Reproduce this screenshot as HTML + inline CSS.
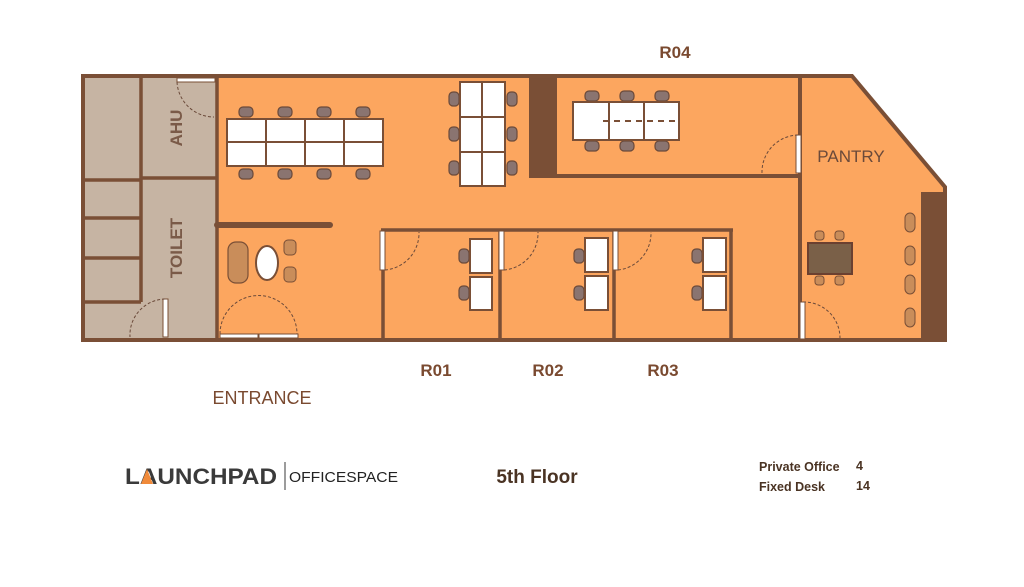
<!DOCTYPE html>
<html><head><style>
html,body{margin:0;padding:0;background:#fff;}
svg{display:block}
text{font-family:"Liberation Sans",sans-serif;}
</style></head><body>
<svg width="1024" height="587" viewBox="0 0 1024 587" xmlns="http://www.w3.org/2000/svg">
<defs>
<g id="chair"><rect x="-7" y="-5" width="14" height="10" rx="4" fill="#8a7470" stroke="#6b4a3a" stroke-width="1.2"/></g>
<g id="chairv"><rect x="-5" y="-7" width="10" height="14" rx="4" fill="#8a7470" stroke="#6b4a3a" stroke-width="1.2"/></g>
</defs>
<!-- floor -->
<polygon points="217,76 852,76 945,187 945,340 217,340" fill="#fca65f"/>
<rect x="83" y="76" width="134" height="264" fill="#c6b4a3"/>
<!-- outer walls -->
<polygon points="83,76 852,76 945,187 945,340 83,340" fill="none" stroke="#7a4f36" stroke-width="4"/>
<!-- grey walls -->
<g stroke="#7a4f36" stroke-width="3.5" fill="none">
<line x1="217" y1="76" x2="217" y2="340"/>
<line x1="141" y1="76" x2="141" y2="302"/>
<line x1="141" y1="178" x2="217" y2="178"/>
<line x1="83" y1="180" x2="141" y2="180"/>
<line x1="83" y1="218" x2="141" y2="218"/>
<line x1="83" y1="258" x2="141" y2="258"/>
<line x1="83" y1="302" x2="141" y2="302"/>
</g>
<!-- grey doors -->
<rect x="177" y="78" width="38" height="4" fill="#fff" stroke="#7a4f36" stroke-width="1"/>
<path d="M177,82 A37,37 0 0 0 214,117" fill="none" stroke="#6b4a3a" stroke-dasharray="3,2"/>
<rect x="163" y="299" width="5" height="38" fill="#fff" stroke="#7a4f36" stroke-width="1"/>
<path d="M165,299 A36,36 0 0 0 130,337" fill="none" stroke="#6b4a3a" stroke-dasharray="3,2"/>
<text transform="translate(182,128) rotate(-90)" text-anchor="middle" font-size="17" font-weight="bold" fill="#7a5a48">AHU</text>
<text transform="translate(182,248) rotate(-90)" text-anchor="middle" font-size="17" font-weight="bold" fill="#7a5a48">TOILET</text>
<!-- partition -->
<line x1="217" y1="225" x2="330" y2="225" stroke="#7a4f36" stroke-width="6" stroke-linecap="round"/>
<!-- lounge -->
<rect x="228" y="242" width="20" height="41" rx="8" fill="#c98d5a" stroke="#7a4f36" stroke-width="1.2"/>
<ellipse cx="267" cy="263" rx="11" ry="17" fill="#fff" stroke="#7a4f36" stroke-width="2"/>
<rect x="284" y="240" width="12" height="15" rx="4" fill="#c98d5a" stroke="#7a4f36" stroke-width="1"/>
<rect x="284" y="267" width="12" height="15" rx="4" fill="#c98d5a" stroke="#7a4f36" stroke-width="1"/>
<rect x="220" y="334" width="38" height="4" fill="#fff" stroke="#7a4f36" stroke-width="1"/>
<rect x="259" y="334" width="39" height="4" fill="#fff" stroke="#7a4f36" stroke-width="1"/>
<path d="M220,334 A38,38 0 0 1 297,334" fill="none" stroke="#6b4a3a" stroke-dasharray="3,2"/>
<!-- desk cluster 1 -->
<g>
<use href="#chair" x="246" y="112"/><use href="#chair" x="285" y="112"/><use href="#chair" x="324" y="112"/><use href="#chair" x="363" y="112"/>
<use href="#chair" x="246" y="174"/><use href="#chair" x="285" y="174"/><use href="#chair" x="324" y="174"/><use href="#chair" x="363" y="174"/>
<rect x="227" y="119" width="156" height="47" fill="#fff" stroke="#7a4f36" stroke-width="2"/>
<g stroke="#7a4f36" stroke-width="2"><line x1="227" y1="142" x2="383" y2="142"/><line x1="266" y1="119" x2="266" y2="166"/><line x1="305" y1="119" x2="305" y2="166"/><line x1="344" y1="119" x2="344" y2="166"/></g>
</g>
<!-- desk cluster 2 -->
<g>
<use href="#chairv" x="454" y="99"/><use href="#chairv" x="454" y="134"/><use href="#chairv" x="454" y="168"/>
<use href="#chairv" x="512" y="99"/><use href="#chairv" x="512" y="134"/><use href="#chairv" x="512" y="168"/>
<rect x="460" y="82" width="45" height="104" fill="#fff" stroke="#7a4f36" stroke-width="2"/>
<g stroke="#7a4f36" stroke-width="2"><line x1="482" y1="82" x2="482" y2="186"/><line x1="460" y1="117" x2="505" y2="117"/><line x1="460" y1="152" x2="505" y2="152"/></g>
</g>
<!-- R04 -->
<rect x="529" y="76" width="28" height="102" fill="#7a4f36"/>
<line x1="529" y1="176" x2="800" y2="176" stroke="#7a4f36" stroke-width="4"/>
<line x1="800" y1="76" x2="800" y2="340" stroke="#7a4f36" stroke-width="4"/>
<use href="#chair" x="592" y="96"/><use href="#chair" x="627" y="96"/><use href="#chair" x="662" y="96"/>
<use href="#chair" x="592" y="146"/><use href="#chair" x="627" y="146"/><use href="#chair" x="662" y="146"/>
<rect x="573" y="102" width="106" height="38" fill="#fff" stroke="#7a4f36" stroke-width="2"/>
<g stroke="#7a4f36" stroke-width="2"><line x1="609" y1="102" x2="609" y2="140"/><line x1="644" y1="102" x2="644" y2="140"/><line x1="603" y1="121" x2="677" y2="121" stroke-dasharray="6,5"/></g>
<rect x="796" y="135" width="5" height="38" fill="#fff" stroke="#7a4f36" stroke-width="1"/>
<path d="M798,135 A37,37 0 0 0 762,173" fill="none" stroke="#6b4a3a" stroke-dasharray="3,2"/>
<text x="851" y="162" text-anchor="middle" font-size="17" fill="#6b4a3a">PANTRY</text>
<!-- pantry -->
<rect x="921" y="192" width="24" height="148" fill="#7a4f36"/>
<rect x="815" y="231" width="9" height="9" rx="3" fill="#c98d5a" stroke="#7a4f36"/><rect x="835" y="231" width="9" height="9" rx="3" fill="#c98d5a" stroke="#7a4f36"/>
<rect x="815" y="276" width="9" height="9" rx="3" fill="#c98d5a" stroke="#7a4f36"/><rect x="835" y="276" width="9" height="9" rx="3" fill="#c98d5a" stroke="#7a4f36"/>
<rect x="808" y="243" width="44" height="31" fill="#7a6048" stroke="#6b4030" stroke-width="2"/>
<g fill="#c98d5a" stroke="#7a4f36"><rect x="905" y="213" width="10" height="19" rx="5"/><rect x="905" y="246" width="10" height="19" rx="5"/><rect x="905" y="275" width="10" height="19" rx="5"/><rect x="905" y="308" width="10" height="19" rx="5"/></g>
<rect x="800" y="302" width="5" height="37" fill="#fff" stroke="#7a4f36" stroke-width="1"/>
<path d="M803,302 A36,36 0 0 1 840,338" fill="none" stroke="#6b4a3a" stroke-dasharray="3,2"/>
<!-- offices -->
<g stroke="#7a4f36" stroke-width="3.5"><line x1="381" y1="230" x2="733" y2="230"/>
<line x1="383" y1="230" x2="383" y2="340"/><line x1="500" y1="230" x2="500" y2="340"/><line x1="614" y1="230" x2="614" y2="340"/><line x1="731" y1="230" x2="731" y2="340"/></g>
<g fill="#fff" stroke="#7a4f36" stroke-width="1"><rect x="380" y="231" width="5" height="39"/><rect x="499" y="231" width="5" height="39"/><rect x="613" y="231" width="5" height="39"/></g>
<g fill="none" stroke="#6b4a3a" stroke-dasharray="3,2"><path d="M385,270 A37,37 0 0 0 419,232"/><path d="M504,270 A37,37 0 0 0 538,232"/><path d="M618,270 A37,37 0 0 0 651,232"/></g>
<g>
<use href="#chairv" x="464" y="256"/><use href="#chairv" x="464" y="293"/>
<use href="#chairv" x="579" y="256"/><use href="#chairv" x="579" y="293"/>
<use href="#chairv" x="697" y="256"/><use href="#chairv" x="697" y="293"/>
<g fill="#fff" stroke="#7a4f36" stroke-width="2">
<rect x="470" y="239" width="22" height="34"/><rect x="470" y="277" width="22" height="33"/>
<rect x="585" y="238" width="23" height="34"/><rect x="585" y="276" width="23" height="34"/>
<rect x="703" y="238" width="23" height="34"/><rect x="703" y="276" width="23" height="34"/>
</g></g>
<!-- labels -->
<g font-size="17" fill="#7a4a30" font-weight="bold" text-anchor="middle">
<text x="675" y="58">R04</text>
<text x="436" y="376">R01</text><text x="548" y="376">R02</text><text x="663" y="376">R03</text>
</g>
<text x="262" y="404" text-anchor="middle" font-size="18" fill="#7a4a30">ENTRANCE</text>
<!-- footer -->
<text x="125" y="484" font-size="22" font-weight="bold" fill="#3a3a3a" textLength="152" lengthAdjust="spacingAndGlyphs">LAUNCHPAD</text>
<polygon points="141,484 147,469 153,484" fill="#f08a3a"/>
<line x1="285" y1="462" x2="285" y2="490" stroke="#3a3a3a" stroke-width="1"/>
<text x="289" y="482" font-size="15" fill="#222" textLength="109" lengthAdjust="spacingAndGlyphs">OFFICESPACE</text>
<text x="537" y="483" text-anchor="middle" font-size="19" font-weight="bold" fill="#4a3323">5th Floor</text>
<g font-size="12.5" font-weight="bold" fill="#4a3323">
<text x="759" y="471">Private Office</text><text x="856" y="470">4</text>
<text x="759" y="491">Fixed Desk</text><text x="856" y="490">14</text>
</g>
</svg>
</body></html>
